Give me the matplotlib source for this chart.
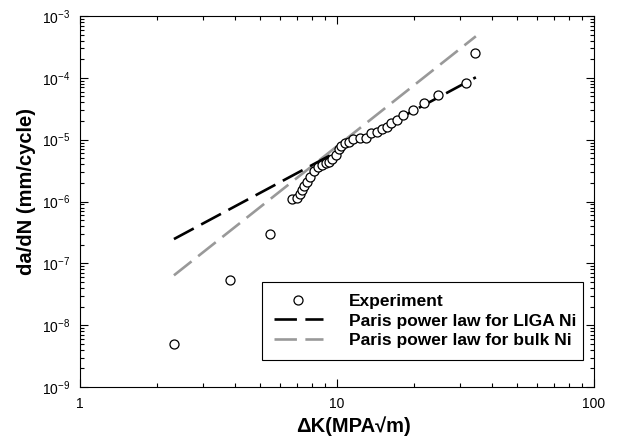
import numpy as np
import matplotlib
matplotlib.use('Agg')
import matplotlib.pyplot as plt
from matplotlib.ticker import LogLocator, NullFormatter, LogFormatterSciNotation

plt.rcParams['font.family'] = ['Liberation Sans', 'DejaVu Sans']
plt.rcParams['mathtext.fontset'] = 'custom'
plt.rcParams['mathtext.rm'] = 'Liberation Sans'
plt.rcParams['mathtext.bf'] = 'Liberation Sans:bold'

# experimental crack growth data
dK_exp = [2.32, 3.83, 5.49, 6.70, 6.97, 7.18, 7.29, 7.44, 7.62, 7.85, 8.16, 8.46,
          8.77, 9.04, 9.31, 9.59, 9.88, 10.2, 10.4, 10.7, 11.1, 11.5, 12.3, 12.97,
          13.6, 14.3, 14.9, 15.6, 16.2, 17.1, 18.1, 19.7, 21.8, 24.8, 31.9, 34.4]
dadn_exp = [4.9e-9, 5.3e-8, 2.97e-7, 1.08e-6, 1.16e-6, 1.32e-6, 1.53e-6, 1.77e-6,
            2.08e-6, 2.51e-6, 3.10e-6, 3.56e-6, 3.88e-6, 4.14e-6, 4.39e-6, 4.80e-6,
            5.63e-6, 6.97e-6, 7.87e-6, 8.91e-6, 9.25e-6, 1.01e-5, 1.07e-5, 1.05e-5,
            1.26e-5, 1.34e-5, 1.49e-5, 1.62e-5, 1.84e-5, 2.08e-5, 2.50e-5, 3.01e-5,
            3.99e-5, 5.27e-5, 8.3e-5, 2.55e-4]

# Paris law fits, end points
dK_fit = [2.32, 34.7]
dadn_liga = [2.47e-7, 1.02e-4]
dadn_bulk = [6.4e-8, 4.7e-4]

xticks = [1, 10, 100]
yticks = [1e-9, 1e-8, 1e-7, 1e-6, 1e-5, 1e-4, 1e-3]

fig = plt.figure(figsize=(6.17, 4.47), dpi=100)
ax = fig.add_axes([0.1297, 0.1342, 0.8330, 0.8300])

ax.plot(dK_exp, dadn_exp, 'o', mfc='white', mec='black', ms=6.5, mew=0.9,
        label='Experiment', zorder=3)
ax.plot(dK_fit, dadn_liga, color='black', lw=1.9, dashes=(8.5, 3.2),
        label='Paris power law for LIGA Ni', zorder=2)
ax.plot(dK_fit, dadn_bulk, color='#999999', lw=1.9, dashes=(8.5, 3.2),
        label='Paris power law for bulk Ni', zorder=1)

ax.set_xscale('log')
ax.set_yscale('log')
ax.set_xlim(1, 100)
ax.set_ylim(1e-9, 1e-3)
ax.set_xticks(xticks)
ax.set_xticklabels([str(t) for t in xticks])
ax.set_yticks(yticks)
ax.yaxis.set_major_formatter(LogFormatterSciNotation())
ax.yaxis.set_minor_locator(LogLocator(base=10, subs=np.arange(2, 10), numticks=10))
ax.yaxis.set_minor_formatter(NullFormatter())
ax.xaxis.set_minor_locator(LogLocator(base=10, subs=np.arange(2, 10), numticks=10))
ax.xaxis.set_minor_formatter(NullFormatter())
ax.set_xlim(1, 100)
ax.set_ylim(1e-9, 1e-3)

ax.tick_params(which='both', direction='in', top=True, right=True, labelsize=10, width=0.8)
ax.tick_params(which='major', length=6, pad=7)
ax.tick_params(which='minor', length=3)
for s in ax.spines.values():
    s.set_linewidth(0.8)

ax.set_ylabel('da/dN (mm/cycle)', fontsize=14.5, fontweight='bold')
ax.yaxis.set_label_coords(-0.085, 0.526)
ax.set_xlabel('ΔK(MPA√m)', fontsize=14.5, fontweight='bold')
ax.xaxis.set_label_coords(0.533, -0.078)

leg = ax.legend(loc='upper left', bbox_to_anchor=(0.354, 0.0547, 0.6245, 0.229),
                mode='expand', fancybox=False, edgecolor='black', framealpha=1,
                handlelength=2.8, prop={'weight': 'bold', 'size': 12.5},
                borderpad=0.7, labelspacing=0.25, handletextpad=1.5,
                borderaxespad=0)
leg.get_frame().set_linewidth(0.8)

fig.savefig('out.png', dpi=100)
